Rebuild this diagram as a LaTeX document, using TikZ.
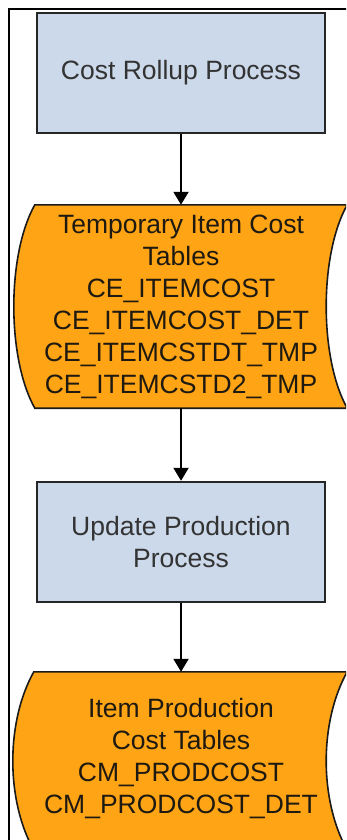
\documentclass[tikz,border=0pt]{standalone}
\usepackage{fontspec}
\setmainfont{Liberation Sans}
\usetikzlibrary{arrows.meta,calc}
\definecolor{boxfill}{HTML}{CCD9EA}
\definecolor{boxline}{HTML}{262626}
\definecolor{boxtext}{HTML}{333333}
\definecolor{datafill}{HTML}{FFA414}
\definecolor{dataline}{HTML}{1A1A1A}
\definecolor{datatext}{HTML}{1E1A12}
\tikzset{
  procbox/.style={draw=boxline, line width=2.4pt, fill=boxfill, text=boxtext,
    minimum width=288pt, minimum height=120pt, inner sep=0pt, align=center,
    font=\fontsize{26.5}{32}\selectfont},
  dataarea/.style={inner sep=0pt, draw=none},
  datashape/.style={draw=dataline, line width=1.6pt, fill=datafill},
  datalabel/.style={text=datatext, align=center, inner sep=0pt,
    font=\fontsize{26.5}{32}\selectfont},
  flow/.style={draw=black, line width=2pt, -{Triangle[length=13pt,width=15pt]}},
  frame/.style={draw=black, line width=1.2pt}
}
\newcommand{\storeddata}[1]{%
  \path[datashape] (#1.north west)
    .. controls ($(#1.north west)+(-28,50)$) and ($(#1.south west)+(-28,-50)$) .. (#1.south west)
    -- (#1.south east)
    .. controls ($(#1.south east)+(-28,-50)$) and ($(#1.north east)+(-28,50)$) .. (#1.north east)
    -- cycle;}
\begin{document}
\begin{tikzpicture}[x=1pt,y=-1pt]
\useasboundingbox (0,0) rectangle (346,840);
\clip (0,0) rectangle (346,840);
\fill[white] (0,0) rectangle (346,840);
\draw[frame] (9,845) -- (9,9) -- (350,9);

\node[procbox] (p1) at (181,73) {Cost Rollup Process};

\node[dataarea, minimum width=312pt, minimum height=203pt] (s2) at (191,306.5) {};
\storeddata{s2}
\node[datalabel] (s2t) at (181,307) {Temporary Item Cost\\Tables\\CE\_ITEMCOST\\CE\_ITEMCOST\_DET\\CE\_ITEMCSTDT\_TMP\\CE\_ITEMCSTD2\_TMP};

\node[procbox] (p2) at (181,542) {Update Production\\Process};

\node[dataarea, minimum width=313pt, minimum height=178pt] (s3) at (190.5,761) {};
\storeddata{s3}
\node[datalabel] (s3t) at (181,758.5) {Item Production\\Cost Tables\\CM\_PRODCOST\\CM\_PRODCOST\_DET};

\draw[flow] (p1.south) -- (p1.south |- s2.north);
\draw[flow] (p1.south |- s2.south) -- (p2.north);
\draw[flow] (p2.south) -- (p2.south |- s3.north);
\end{tikzpicture}
\end{document}
